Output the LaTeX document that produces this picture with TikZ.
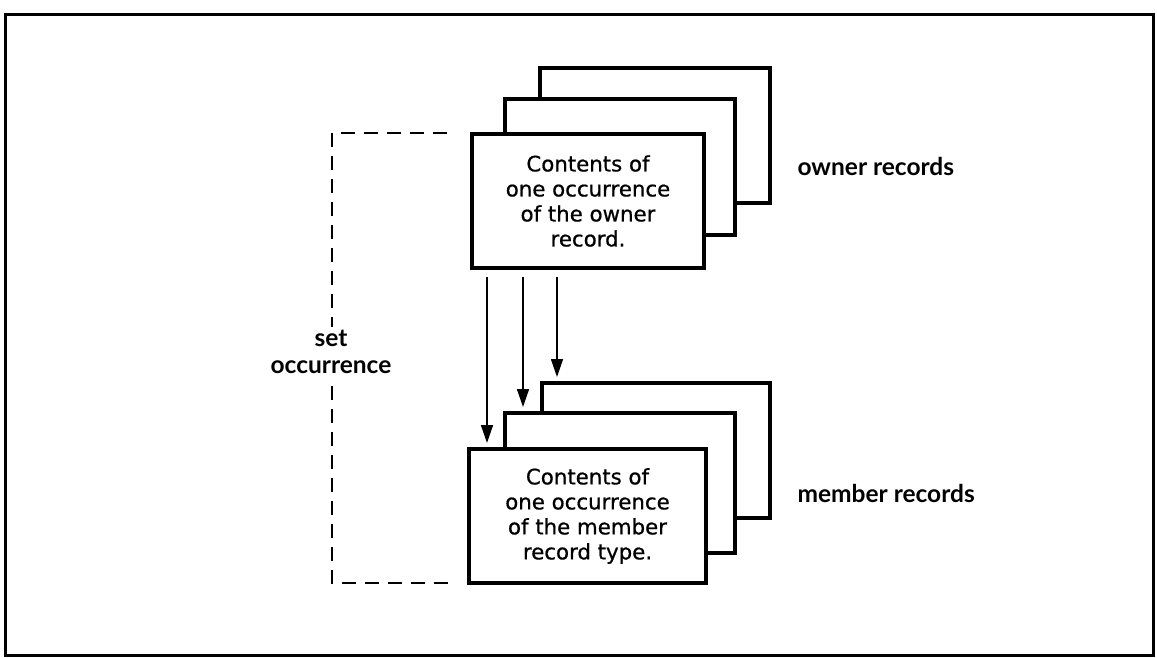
\documentclass[tikz,border=0pt]{standalone}
\usepackage{fontspec}
\setmainfont{DejaVu Sans}
\newfontfamily\cardfont[FakeBold=0.7]{DejaVu Sans}
\newfontfamily\labelfont{Lato}
\usetikzlibrary{calc,arrows.meta}
\begin{document}
\begin{tikzpicture}[x=1pt,y=-1pt,
  card/.style={draw,line width=3.2pt,fill=white,inner sep=0pt,outer sep=0pt,
    minimum width=232pt,minimum height=134pt,anchor=north west},
  cardtext/.style={align=center,font=\cardfont\fontsize{21.3}{25}\selectfont},
  tag/.style={font=\labelfont\bfseries\fontsize{24.5}{27}\selectfont,align=center},
  link/.style={line width=1.5pt,-{Triangle[length=18pt,width=12pt]}},
  setline/.style={line width=1.5pt,dash pattern=on 14pt off 9pt}]
\useasboundingbox (0,0) rectangle (1157,658);
% outer frame
\draw[line width=3pt] (5,15) rectangle (1153,655);

% owner record occurrences (back to front)
\node[card,minimum width=230pt,minimum height=135pt] (own3) at (540,68) {};
\node[card,minimum width=230pt,minimum height=136pt] (own2) at (505,99) {};
\node[card] (own1) at (472,134) {};
\node[cardtext] (owntext) at (own1.center)
  {Contents of\\one occurrence\\of the owner\\record.};

% member record occurrences (back to front)
\node[card,minimum width=228pt,minimum height=135pt] (mem3) at (542,383) {};
\node[card,minimum width=230pt,minimum height=140pt] (mem2) at (505,413) {};
\node[card,minimum width=237pt] (mem1) at (469,449) {};
\node[cardtext] (memtext) at (mem1.center)
  {Contents of\\one occurrence\\of the member\\record type.};

% labels
\node[tag,anchor=west] (ownlab) at (794,166) {owner records};
\node[tag,anchor=west] (memlab) at (794,493) {member records};

% set occurrence bracket
\coordinate (st) at ($(own1.north west)+(-25,-1)$);
\coordinate (sb) at ($(mem1.south west)+(-19,0)$);
\draw[setline] (st) -- (332,133) -- (332,583) -- (sb);
\node[tag,fill=white,inner sep=3pt] (setlab) at (331,352) {set\\occurrence};

% owner-to-member pointers
\draw[link] ($(own1.south west)+(15,9)$) -- ($(mem1.north west)+(18,-6)$);
\draw[link] ($(own1.south west)+(51,9)$) -- ($(mem2.north west)+(18,-6)$);
\draw[link] ($(own1.south west)+(85,9)$) -- ($(mem3.north west)+(15,-6)$);
\end{tikzpicture}
\end{document}
